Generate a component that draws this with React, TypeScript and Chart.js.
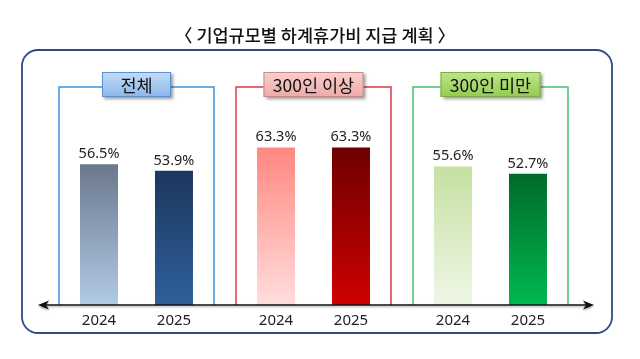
import React, { useEffect, useRef } from "react";
import { Chart, registerables } from "chart.js";

Chart.register(...registerables);

const titleText = "〈 기업규모별 하계휴가비 지급 계획 〉";
const groups = ["전체", "300인 이상", "300인 미만"];
const years = ["2024", "2025"];
const values2024 = [56.5, 63.3, 55.6];
const values2025 = [53.9, 63.3, 52.7];

// styles
const grad2024 = [
  ["#6a788c", "#b2cae6"],
  ["#ff877f", "#ffdede"],
  ["#c6e1a2", "#eff6e6"],
];
const grad2025 = [
  ["#1c375d", "#2f609b"],
  ["#6e0000", "#cf0000"],
  ["#006a2a", "#00b850"],
];
const frameColors = ["#3f92dc", "#dc3a40", "#46c077"];
const boxWidths = [69, 100, 100];
const boxFillTop = ["#c4ddf7", "#f9cfcf", "#bfe58c"];
const boxFillBottom = ["#8ab6ea", "#eeaaaa", "#93cc4e"];
const boxBorder = ["#5f8fcc", "#c58a8a", "#7fae45"];

function makeGradient(chart: any, value: number, colors: string[]) {
  const area = chart.chartArea;
  if (!area) return colors[0];
  const ys = chart.scales.y;
  const top = ys.getPixelForValue(value);
  const bottom = ys.getPixelForValue(0);
  const g = chart.ctx.createLinearGradient(0, top, 0, bottom);
  g.addColorStop(0, colors[0]);
  g.addColorStop(1, colors[1]);
  return g;
}

function roundRectPath(ctx: CanvasRenderingContext2D, x: number, y: number, w: number, h: number, r: number) {
  ctx.beginPath();
  ctx.moveTo(x + r, y);
  ctx.lineTo(x + w - r, y);
  ctx.arcTo(x + w, y, x + w, y + r, r);
  ctx.lineTo(x + w, y + h - r);
  ctx.arcTo(x + w, y + h, x + w - r, y + h, r);
  ctx.lineTo(x + r, y + h);
  ctx.arcTo(x, y + h, x, y + h - r, r);
  ctx.lineTo(x, y + r);
  ctx.arcTo(x, y, x + r, y, r);
  ctx.closePath();
}

const decor = {
  id: "decor",
  beforeDatasetsDraw(chart: any) {
    const ctx: CanvasRenderingContext2D = chart.ctx;
    const xs = chart.scales.x;
    const ys = chart.scales.y;
    const base = ys.getPixelForValue(0);
    ctx.save();
    // outer rounded frame
    ctx.strokeStyle = "#2e4b88";
    ctx.lineWidth = 1.8;
    roundRectPath(ctx, 22, 50, 590, 283, 16);
    ctx.stroke();
    // title
    ctx.fillStyle = "#111";
    ctx.font = '500 17.5px "Noto Sans CJK KR"';
    ctx.textAlign = "center";
    ctx.textBaseline = "middle";
    ctx.fillText(titleText, 315, 35);
    // group frames + label boxes
    groups.forEach((g, i) => {
      const cx = xs.getPixelForValue(i);
      ctx.strokeStyle = frameColors[i];
      ctx.lineWidth = 1.5;
      ctx.beginPath();
      ctx.moveTo(cx - 77.5, base);
      ctx.lineTo(cx - 77.5, 87);
      ctx.lineTo(cx + 77.5, 87);
      ctx.lineTo(cx + 77.5, base);
      ctx.stroke();
      const bw = boxWidths[i];
      const bx = cx - bw / 2;
      const by = 72;
      const bh = 25;
      const grad = ctx.createLinearGradient(0, by, 0, by + bh);
      grad.addColorStop(0, boxFillTop[i]);
      grad.addColorStop(1, boxFillBottom[i]);
      ctx.save();
      ctx.shadowColor = "rgba(0,0,0,0.4)";
      ctx.shadowOffsetX = 2;
      ctx.shadowOffsetY = 2;
      ctx.shadowBlur = 3;
      ctx.fillStyle = grad;
      ctx.fillRect(bx, by, bw, bh);
      ctx.restore();
      ctx.strokeStyle = boxBorder[i];
      ctx.lineWidth = 1;
      ctx.strokeRect(bx + 0.5, by + 0.5, bw - 1, bh - 1);
      ctx.fillStyle = "#111";
      ctx.font = '17.5px "Noto Sans CJK KR"';
      ctx.textAlign = "center";
      ctx.textBaseline = "middle";
      ctx.fillText(g, cx, by + bh / 2 + 0.5);
    });
    ctx.restore();
  },
  afterDatasetsDraw(chart: any) {
    const ctx: CanvasRenderingContext2D = chart.ctx;
    const ys = chart.scales.y;
    const base = ys.getPixelForValue(0);
    ctx.save();
    // axis with arrows
    const x1 = 38;
    const x2 = 594;
    ctx.shadowColor = "rgba(0,0,0,0.3)";
    ctx.shadowOffsetY = 1.5;
    ctx.shadowBlur = 2;
    ctx.strokeStyle = "#111";
    ctx.fillStyle = "#111";
    ctx.lineWidth = 1.6;
    ctx.beginPath();
    ctx.moveTo(x1 + 4, base);
    ctx.lineTo(x2 - 4, base);
    ctx.stroke();
    ctx.beginPath();
    ctx.moveTo(x1, base);
    ctx.lineTo(x1 + 11, base - 4.5);
    ctx.lineTo(x1 + 8, base);
    ctx.lineTo(x1 + 11, base + 4.5);
    ctx.closePath();
    ctx.fill();
    ctx.beginPath();
    ctx.moveTo(x2, base);
    ctx.lineTo(x2 - 11, base - 4.5);
    ctx.lineTo(x2 - 8, base);
    ctx.lineTo(x2 - 11, base + 4.5);
    ctx.closePath();
    ctx.fill();
    ctx.restore();

    ctx.save();
    chart.data.datasets.forEach((ds: any, di: number) => {
      const meta = chart.getDatasetMeta(di);
      meta.data.forEach((el: any, i: number) => {
        ctx.fillStyle = "#222";
        ctx.textAlign = "center";
        ctx.font = '14.5px "Noto Sans"';
        ctx.textBaseline = "bottom";
        ctx.fillText(ds.data[i].toFixed(1) + "%", el.x, el.y - 3);
        ctx.font = '15px "Noto Sans"';
        ctx.textBaseline = "middle";
        ctx.fillText(ds.label, el.x, base + 16);
      });
    });
    ctx.restore();
  },
};

export default function App() {
  const ref = useRef<HTMLCanvasElement | null>(null);
  useEffect(() => {
    document.body.style.margin = "0";
    if (!ref.current) return;
    const chart = new Chart(ref.current, {
      type: "bar",
      data: {
        labels: groups,
        datasets: [
          {
            label: years[0],
            data: values2024,
            backgroundColor: (c: any) => makeGradient(c.chart, values2024[c.dataIndex] ?? 0, grad2024[c.dataIndex] ?? grad2024[0]),
            borderWidth: 0,
          },
          {
            label: years[1],
            data: values2025,
            backgroundColor: (c: any) => makeGradient(c.chart, values2025[c.dataIndex] ?? 0, grad2025[c.dataIndex] ?? grad2025[0]),
            borderWidth: 0,
          },
        ],
      },
      options: {
        responsive: false,
        animation: false,
        devicePixelRatio: 1,
        layout: { padding: { left: 48, right: 61, top: 56, bottom: 54 } },
        datasets: { bar: { categoryPercentage: 0.847, barPercentage: 0.507 } },
        scales: {
          x: { display: false },
          y: { display: false, min: 0, max: 100 },
        },
        plugins: {
          legend: { display: false },
          tooltip: { enabled: false },
          title: { display: false },
        },
      },
      plugins: [decor],
    });
    return () => chart.destroy();
  }, []);
  return (
    <div style={{ position: "absolute", left: 0, top: 0, width: 640, height: 359, background: "#fff" }}>
      <canvas ref={ref} width={640} height={359} />
    </div>
  );
}
